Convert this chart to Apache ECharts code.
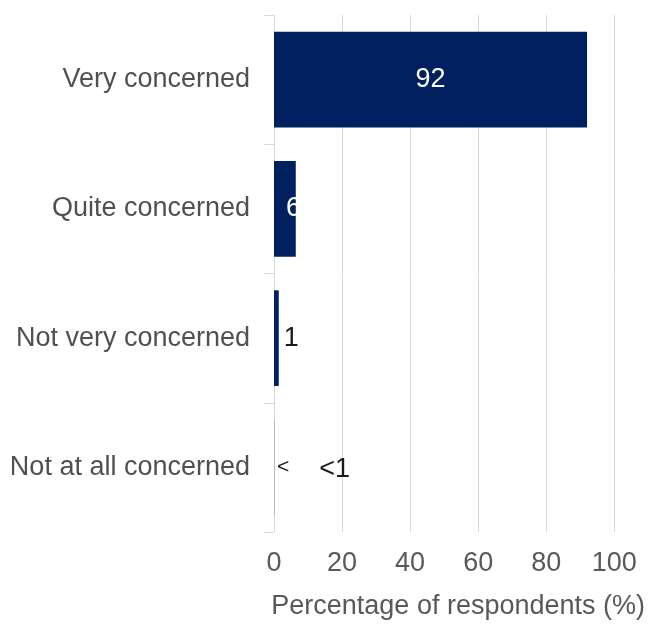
<!DOCTYPE html>
<html>
<head>
<meta charset="utf-8">
<script src="https://cdn.jsdelivr.net/npm/echarts@6/dist/echarts.min.js"></script>
<style>html,body{margin:0;padding:0;background:#fff;}#c{width:648px;height:625px;}</style>
</head>
<body>
<div id="c"></div>
<script>
const categories = ["Very concerned", "Quite concerned", "Not very concerned", "Not at all concerned"];
const values = [92, 6.4, 1.4, 0.05];
const valueLabels = ["92", "6", "1", "<1"];
const xTicks = [0, 20, 40, 60, 80, 100];

const navy = '#002060';
const FF = 'Liberation Sans, Arial, sans-serif';
const chart = echarts.init(document.getElementById('c'), null, {renderer: 'canvas'});
const labelStyles = [
  {show: true, position: 'inside', color: '#ffffff', fontSize: 27, fontFamily: FF},
  {show: true, position: [12, '50%'], align: 'left', verticalAlign: 'middle', color: '#ffffff', fontSize: 27, fontFamily: FF},
  {show: true, position: 'right', distance: 5, color: '#1a1a1a', fontSize: 27, fontFamily: FF},
  {show: true, position: [3, '50%'], align: 'left', verticalAlign: 'middle', offset: [0, 2], formatter: '{a|<}{b|<1}',
    rich: {a: {fontSize: 21, color: '#1a1a1a', fontFamily: FF, padding: [0,0,4,0]},
           b: {fontSize: 27, color: '#1a1a1a', fontFamily: FF, padding: [0,0,0,30]}}}
];
chart.setOption({
  animation: false,
  backgroundColor: '#ffffff',
  grid: {left: 274, right: 31, top: 15, bottom: 91, containLabel: false},
  xAxis: {
    type: 'value', min: xTicks[0], max: xTicks[xTicks.length - 1], interval: 20,
    axisLine: {show: false}, axisTick: {show: false},
    splitLine: {show: true, lineStyle: {color: '#d9d9d9', width: 1}},
    axisLabel: {color: '#595959', fontSize: 27, margin: 18, fontFamily: FF},
    name: 'Percentage of respondents (%)', nameLocation: 'middle', nameGap: 61,
    nameTextStyle: {color: '#595959', fontSize: 27, fontFamily: FF, padding: [0, 0, 0, 28]}
  },
  yAxis: {
    type: 'category', data: categories, inverse: true,
    axisLine: {show: true, lineStyle: {color: '#d9d9d9'}},
    axisTick: {show: true, length: 10, lineStyle: {color: '#d9d9d9'}},
    axisLabel: {color: '#505050', fontSize: 27, margin: 24, fontFamily: FF}
  },
  series: [{
    type: 'bar', barWidth: '74%',
    itemStyle: {color: navy},
    data: values.map((v, i) => ({value: v, label: Object.assign({formatter: valueLabels[i]}, labelStyles[i])}))
  }]
});
</script>
</body>
</html>
